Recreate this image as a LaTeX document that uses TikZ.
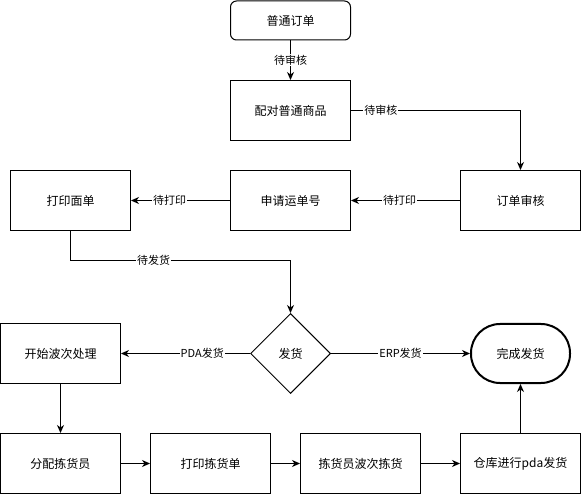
\documentclass[tikz,border=0pt]{standalone}
\usepackage{fontspec}
\setmainfont{Noto Sans CJK SC}
\usetikzlibrary{shapes.geometric,arrows.meta}
\begin{document}
\begin{tikzpicture}[x=1pt,y=-1pt,
  every node/.style={font=\fontsize{12}{14}\selectfont},
  box/.style={draw,line width=1pt,minimum width=120pt,minimum height=60pt,inner sep=0pt},
  startbox/.style={box,minimum height=39pt,rounded corners=6pt},
  endbox/.style={draw,line width=2pt,minimum width=99pt,minimum height=59pt,rounded corners=29pt,inner sep=0pt},
  dec/.style={draw,line width=1pt,diamond,aspect=1,minimum width=80pt,minimum height=80pt,inner sep=0pt},
  conn/.style={line width=1pt,-{Stealth[length=8pt,width=7pt,inset=2.5pt]}},
  lbl/.style={fill=white,inner sep=1pt,font=\fontsize{11}{13}\selectfont}]
\useasboundingbox (0,0) rectangle (581,494);
\node[startbox] (n1) at (290.5,20.5) {普通订单};
\node[box] (n2) at (290.5,110.5) {配对普通商品};
\node[box] (n3) at (520.5,200.5) {订单审核};
\node[box] (n4) at (290.5,200.5) {申请运单号};
\node[box] (n5) at (70.5,200.5) {打印面单};
\node[dec] (d) at (290.5,353.5) {发货};
\node[box] (n6) at (60.5,353.5) {开始波次处理};
\node[endbox] (n7) at (520.5,353.5) {完成发货};
\node[box] (b1) at (60.5,463.5) {分配拣货员};
\node[box] (b2) at (210.5,463.5) {打印拣货单};
\node[box] (b3) at (360.5,463.5) {拣货员波次拣货};
\node[box] (b4) at (520.5,463.5) {仓库进行pda发货};
\coordinate (c1) at (70.5,260.5);
\draw[conn] (n1) -- node[lbl]{待审核} (n2);
\draw[conn] (n2) -| node[lbl,pos=0.088]{待审核} (n3);
\draw[conn] (n3) -- node[lbl,pos=0.555]{待打印} (n4);
\draw[conn] (n4) -- node[lbl,pos=0.61]{待打印} (n5);
\draw[conn] (n5) -- (c1) -| node[lbl,pos=0.189]{待发货} (d);
\draw[conn] (d) -- node[lbl,pos=0.37]{PDA发货} (n6);
\draw[conn] (d) -- node[lbl,pos=0.5]{ERP发货} (n7);
\draw[conn] (n6) -- (b1);
\draw[conn] (b1) -- (b2);
\draw[conn] (b2) -- (b3);
\draw[conn] (b3) -- (b4);
\draw[conn] (b4) -- (n7);
\end{tikzpicture}
\end{document}
